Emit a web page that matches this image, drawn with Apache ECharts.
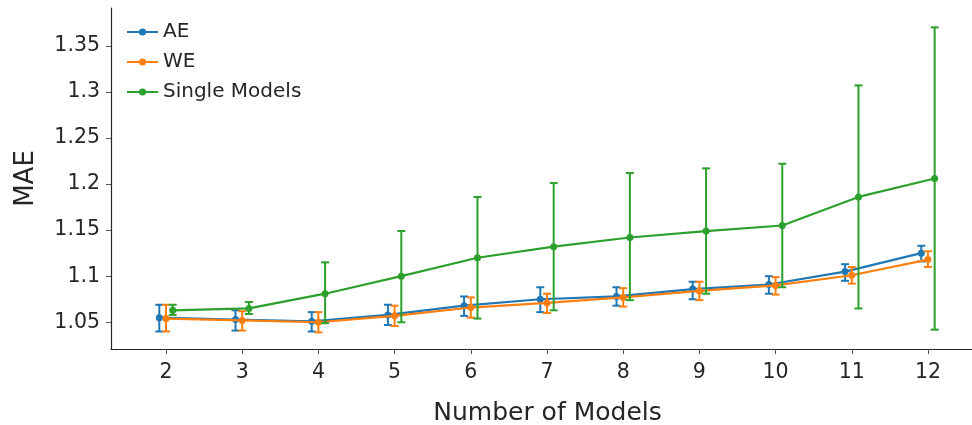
<!DOCTYPE html>
<html><head><meta charset="utf-8">
<script src="https://cdn.jsdelivr.net/npm/echarts@6/dist/echarts.min.js"></script>
<style>html,body{margin:0;padding:0;background:#fff}#c{width:972px;height:425px}</style>
</head><body><div id="c"></div>
<script>
const categories = [2, 3, 4, 5, 6, 7, 8, 9, 10, 11, 12];

const aeMean = [1.055, 1.053, 1.051, 1.058, 1.068, 1.075, 1.078, 1.086, 1.091, 1.105, 1.125];
const aeLow  = [1.040, 1.041, 1.040, 1.047, 1.057, 1.061, 1.068, 1.075, 1.081, 1.095, 1.116];
const aeHigh = [1.069, 1.063, 1.061, 1.069, 1.078, 1.088, 1.088, 1.094, 1.100, 1.113, 1.133];

const weMean = [1.054, 1.052, 1.050, 1.057, 1.066, 1.071, 1.077, 1.084, 1.090, 1.101, 1.118];
const weLow  = [1.040, 1.041, 1.039, 1.046, 1.055, 1.060, 1.067, 1.074, 1.080, 1.092, 1.110];
const weHigh = [1.069, 1.062, 1.061, 1.068, 1.077, 1.081, 1.087, 1.094, 1.099, 1.110, 1.127];

const singleMean = [1.063, 1.065, 1.081, 1.100, 1.120, 1.132, 1.142, 1.149, 1.155, 1.186, 1.206];
const singleLow  = [1.058, 1.059, 1.049, 1.050, 1.054, 1.063, 1.074, 1.081, 1.088, 1.065, 1.042];
const singleHigh = [1.069, 1.072, 1.115, 1.149, 1.186, 1.201, 1.212, 1.217, 1.222, 1.307, 1.370];

const yTicks = [1.05, 1.1, 1.15, 1.2, 1.25, 1.3, 1.35];
const seriesNames = ['AE', 'WE', 'Single Models'];
const xTitle = 'Number of Models';
const yTitle = 'MAE';

const colors = ['#1f77b4', '#ff7f0e', '#2ca02c'];
const offsets = [-0.088, 0, 0.088];
const groups = [
  [aeMean, aeLow, aeHigh],
  [weMean, weLow, weHigh],
  [singleMean, singleLow, singleHigh]
];
const FONT = 'DejaVu Sans';
const TXT = '#262626';

function errRender(params, api) {
  const x = api.value(0), lo = api.value(1), hi = api.value(2);
  const pLo = api.coord([x, lo]);
  const pHi = api.coord([x, hi]);
  const hw = 4;
  const style = { stroke: api.visual('color'), lineWidth: 2, fill: null };
  return {
    type: 'group',
    children: [
      { type: 'line', shape: { x1: pLo[0], y1: pLo[1], x2: pHi[0], y2: pHi[1] }, style: style },
      { type: 'line', shape: { x1: pLo[0] - hw, y1: pLo[1], x2: pLo[0] + hw, y2: pLo[1] }, style: style },
      { type: 'line', shape: { x1: pHi[0] - hw, y1: pHi[1], x2: pHi[0] + hw, y2: pHi[1] }, style: style }
    ]
  };
}

const series = [];
groups.forEach(function (g, k) {
  const [mean, lo, hi] = g;
  series.push({
    name: seriesNames[k] + ' err',
    type: 'custom',
    renderItem: errRender,
    itemStyle: { color: colors[k] },
    encode: { x: 0, y: [1, 2] },
    data: categories.map(function (c, i) { return [c + offsets[k], lo[i], hi[i]]; }),
    z: 2 + k * 2
  });
  series.push({
    name: seriesNames[k],
    type: 'line',
    symbol: 'circle',
    symbolSize: 7,
    showSymbol: true,
    color: colors[k],
    itemStyle: { color: colors[k] },
    lineStyle: { color: colors[k], width: 2.2 },
    data: categories.map(function (c, i) { return [c + offsets[k], mean[i]]; }),
    z: 3 + k * 2
  });
});

const chart = echarts.init(document.getElementById('c'), null, { renderer: 'canvas' });
chart.setOption({
  animation: false,
  backgroundColor: '#fff',
  textStyle: { fontFamily: FONT, color: TXT },
  grid: { left: 111, right: 0, top: 8, bottom: 76, containLabel: false, outerBoundsMode: 'none' },
  legend: {
    data: seriesNames,
    orient: 'vertical',
    left: 126,
    top: 22,
    padding: 0,
    itemWidth: 31,
    itemHeight: 9,
    itemGap: 10,
    textStyle: { fontFamily: FONT, fontSize: 20, color: TXT, height: 20, lineHeight: 20 }
  },
  xAxis: {
    type: 'value',
    min: 1.278,
    max: 12.578,
    name: xTitle,
    nameLocation: 'middle',
    nameGap: 52,
    nameTextStyle: { fontFamily: FONT, fontSize: 25, color: TXT, padding: [0, 0, 0, 12] },
    splitLine: { show: false },
    axisLine: { show: true, lineStyle: { color: '#262626', width: 1.2 } },
    axisTick: { show: true, length: 5, customValues: categories, lineStyle: { color: '#555', width: 1 } },
    axisLabel: { customValues: categories, fontFamily: FONT, fontSize: 20.5, color: TXT, margin: 13 }
  },
  yAxis: {
    type: 'value',
    min: 1.021,
    max: 1.391,
    name: yTitle,
    nameLocation: 'middle',
    nameRotate: 90,
    nameGap: 72,
    nameTextStyle: { fontFamily: FONT, fontSize: 26, color: TXT },
    splitLine: { show: false },
    axisLine: { show: true, lineStyle: { color: '#262626', width: 1.2 } },
    axisTick: { show: true, length: 5, customValues: yTicks, lineStyle: { color: '#555', width: 1 } },
    axisLabel: {
      customValues: yTicks,
      fontFamily: FONT, fontSize: 20.5, color: TXT, margin: 11,
      formatter: function (v) { return String(parseFloat(v.toFixed(2))); }
    }
  },
  series: series
});
</script>
</body></html>
